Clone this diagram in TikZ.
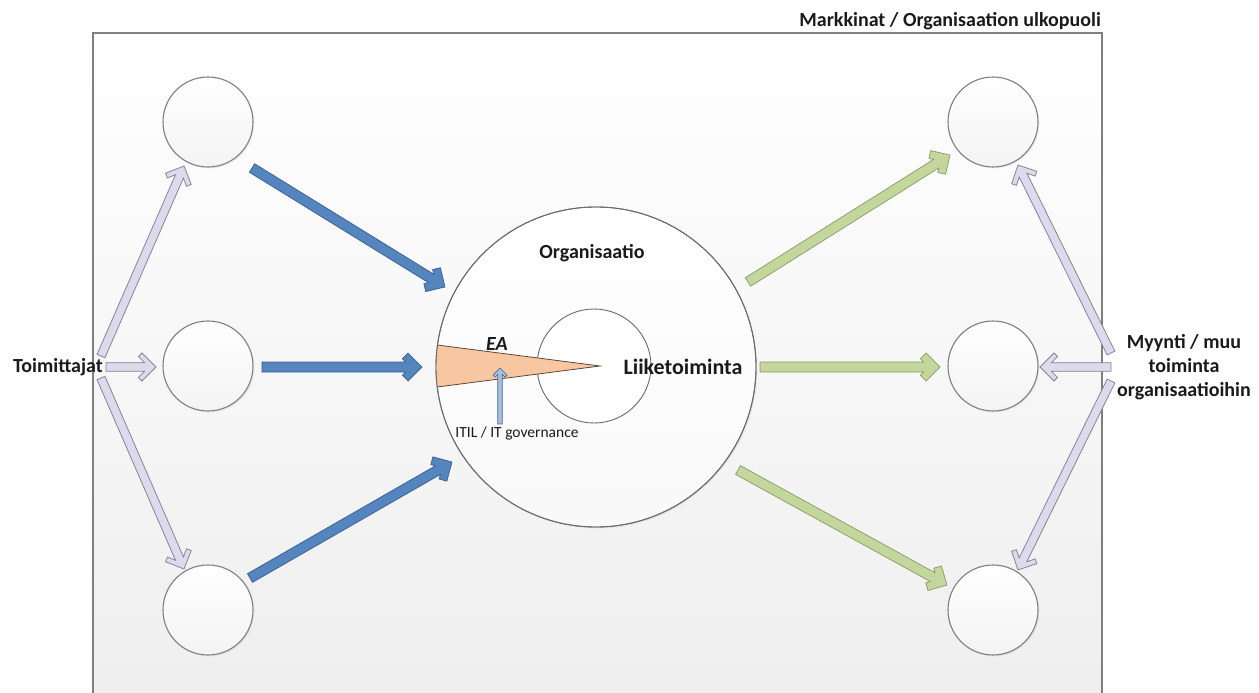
\documentclass[tikz,border=0pt]{standalone}
\usepackage{fontspec}
\setmainfont{Carlito}
\usetikzlibrary{calc,shadows}

\definecolor{frameline}{HTML}{7F7F7F}
\definecolor{bgbottom}{HTML}{EEEEEE}
\definecolor{ringline}{HTML}{6A6A6A}
\definecolor{blueA}{HTML}{5485BF}
\definecolor{blueD}{HTML}{3A5F8C}
\definecolor{greenA}{HTML}{C3D69B}
\definecolor{greenD}{HTML}{8A9A66}
\definecolor{lavA}{HTML}{DDDAEC}
\definecolor{lavD}{HTML}{858396}
\definecolor{itilA}{HTML}{A7BFDC}
\definecolor{itilD}{HTML}{4A6C94}
\definecolor{peach}{HTML}{F8C6A0}
\definecolor{peachD}{HTML}{5A4A3C}
\definecolor{txt}{HTML}{1A1A1A}

% block arrow with a chevron head: style, from, to, shaft half width, wing reach, wing thickness
\makeatletter
\newcommand\chevronarrow[6]{%
  \pgfpointdiff{\pgfpointanchor{#2}{center}}{\pgfpointanchor{#3}{center}}%
  \pgfgetlastxy{\chevdx}{\chevdy}%
  \pgfmathsetmacro\chevang{atan2(\chevdy,\chevdx)}%
  \pgfmathsetmacro\chevlen{veclen(\chevdx,\chevdy)}%
  \pgfmathsetmacro\chevd{#6*1.41421}%
  \pgfmathsetmacro\chevq{#6*0.70711}%
  \begin{scope}[shift={(#2)}, rotate=\chevang]
    \draw[#1] (0,#4) -- ({\chevlen-\chevd-#4},#4)
      -- ({\chevlen-#5-\chevq},{#5-\chevq}) -- ({\chevlen-#5},#5)
      -- (\chevlen,0)
      -- ({\chevlen-#5},-#5) -- ({\chevlen-#5-\chevq},{-(#5-\chevq)})
      -- ({\chevlen-\chevd-#4},-#4) -- (0,-#4) -- cycle;
  \end{scope}}
\makeatother

\tikzset{
  softshadow/.style={drop shadow={opacity=0.10, shadow xshift=1.5pt, shadow yshift=-1.5pt}},
  smallring/.style={circle, minimum size=90pt, inner sep=0pt, draw=frameline,
    line width=1.1pt, top color=white, bottom color=gray!9, softshadow},
  bigring/.style={circle, minimum size=320pt, inner sep=0pt, draw=ringline,
    line width=0.9pt, top color=white, bottom color=gray!5, softshadow},
  corering/.style={circle, minimum size=114pt, inner sep=0pt, draw=ringline,
    line width=0.9pt, fill=white},
  bluearrow/.style={fill=blueA, draw=blueD, line width=0.7pt, line join=miter},
  greenarrow/.style={fill=greenA, draw=greenD, line width=0.7pt, line join=miter},
  lavarrow/.style={fill=lavA, draw=lavD, line width=0.8pt, line join=miter},
  itilarrow/.style={fill=itilA, draw=itilD, line width=0.7pt, line join=miter},
  boldlabel/.style={text=txt, font=\fontsize{20}{24}\selectfont\bfseries, inner sep=0pt},
}

\begin{document}
\begin{tikzpicture}[x=1pt, y=-1pt]
\useasboundingbox (0,0) rectangle (1259,693);
\clip (0,0) rectangle (1259,693);
\fill[white] (0,0) rectangle (1259,693);

% market area
\shade[top color=white, bottom color=bgbottom] (93,33) rectangle (1102,720);
\draw[frameline, line width=1.4pt] (93,720) -- (93,33) -- (1102,33) -- (1102,720);
\node[boldlabel, anchor=south east] (markk) at (1101,30) {Markkinat / Organisaation ulkopuoli};

% suppliers side and customer side
\node[smallring] (lt) at (208,122) {};
\node[smallring] (lm) at (208,366) {};
\node[smallring] (lb) at (208,610) {};
\node[smallring] (rt) at (993,122) {};
\node[smallring] (rm) at (993,366) {};
\node[smallring] (rb) at (993,610) {};

% organisation
\node[bigring] (org) at (596,367) {};
\node[corering] (core) at (594,366) {};

% EA wedge pointing into the core
\begin{scope}
  \clip (org.center) circle[radius=159.6];
  \draw[fill=peach, draw=peachD, line width=0.8pt, line join=miter]
    (400,340.2) -- (600,366) -- (400,391.8) -- cycle;
\end{scope}
\draw[ringline, line width=0.9pt] (org.center) circle[radius=160];

\node[boldlabel, anchor=south] (orgl) at (592,262) {Organisaatio};
\node[text=txt, font=\fontsize{22}{26}\selectfont\bfseries, inner sep=0pt] (liik) at (683,367) {Liiketoiminta};
\node[boldlabel, font=\fontsize{20}{24}\selectfont\bfseries\itshape] (ea) at (497,344) {EA};
\node[text=txt, font=\fontsize{15.5}{18}\selectfont, inner sep=0pt] (itil) at (517,433) {ITIL / IT governance};

\coordinate (itilS) at (500,424);
\coordinate (itilE) at (500,368);
\chevronarrow{itilarrow}{itilS}{itilE}{2.3}{7}{3}

% outer labels
\node[boldlabel, anchor=east] (toim) at (103,367) {Toimittajat};
\node[boldlabel, align=center] (myyn) at (1184,367) {Myynti / muu\\toiminta\\organisaatioihin};

% connector end points
\coordinate (lavL1) at (101,356);  \coordinate (lavL1e) at (184,166);
\coordinate (lavL2) at (106,367);  \coordinate (lavL2e) at (156,367);
\coordinate (lavL3) at (101,378);  \coordinate (lavL3e) at (184,569);
\coordinate (lavR1) at (1111,353); \coordinate (lavR1e) at (1018,165);
\coordinate (lavR2) at (1111,367); \coordinate (lavR2e) at (1040,367);
\coordinate (lavR3) at (1111,381); \coordinate (lavR3e) at (1018,570);

\coordinate (bl1) at (252,168); \coordinate (bl1e) at (445,287);
\coordinate (bl2) at (262,367); \coordinate (bl2e) at (422,367);
\coordinate (bl3) at (250,578); \coordinate (bl3e) at (452,462);

\coordinate (gr1) at (748,282); \coordinate (gr1e) at (950,155);
\coordinate (gr2) at (760,367); \coordinate (gr2e) at (940,367);
\coordinate (gr3) at (738,470); \coordinate (gr3e) at (947,585);

% supplier arrows
\chevronarrow{lavarrow}{lavL1}{lavL1e}{4.3}{14}{5}
\chevronarrow{lavarrow}{lavL2}{lavL2e}{4.3}{14}{5}
\chevronarrow{lavarrow}{lavL3}{lavL3e}{4.3}{14}{5}
% customer arrows
\chevronarrow{lavarrow}{lavR1}{lavR1e}{4.3}{14}{5}
\chevronarrow{lavarrow}{lavR2}{lavR2e}{4.3}{14}{5}
\chevronarrow{lavarrow}{lavR3}{lavR3e}{4.3}{14}{5}

% inbound flows
\chevronarrow{bluearrow}{bl1}{bl1e}{5}{14}{8}
\chevronarrow{bluearrow}{bl2}{bl2e}{5}{14}{8}
\chevronarrow{bluearrow}{bl3}{bl3e}{5}{14}{8}

% outbound flows
\chevronarrow{greenarrow}{gr1}{gr1e}{5}{14}{8}
\chevronarrow{greenarrow}{gr2}{gr2e}{5}{14}{8}
\chevronarrow{greenarrow}{gr3}{gr3e}{5}{14}{8}
\end{tikzpicture}
\end{document}
